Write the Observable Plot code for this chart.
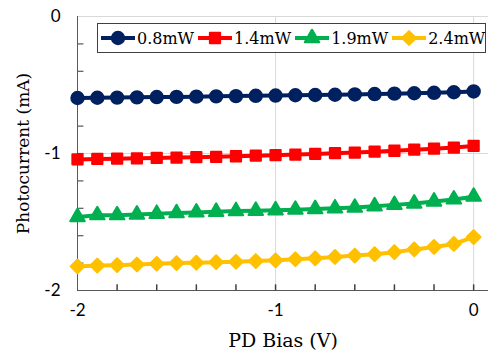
<!DOCTYPE html>
<html><head><meta charset="utf-8">
<script src="https://cdn.jsdelivr.net/npm/d3@7"></script>
<script src="https://cdn.jsdelivr.net/npm/@observablehq/plot@0.6"></script>
<style>
body{margin:0;background:#fff;}
#wrap{position:relative;width:489px;height:350px;}
#legend{position:absolute;left:97px;top:23px;width:389px;height:30px;box-sizing:border-box;border:1px solid #404040;background:#fff;display:flex;align-items:center;padding-left:3px;font-family:"DejaVu Serif",serif;font-size:16px;color:#000;}
.item{display:flex;align-items:center;margin-right:4px;}
.item svg{display:block;margin-right:2px;}
</style>
</head><body>
<div id="wrap"><div id="legend"></div></div>
<script>
const bias = [-2,-1.9,-1.8,-1.7,-1.6,-1.5,-1.4,-1.3,-1.2,-1.1,-1,-0.9,-0.8,-0.7,-0.6,-0.5,-0.4,-0.3,-0.2,-0.1,0];
const seriesNames = ["0.8mW","1.4mW","1.9mW","2.4mW"];
const p08 = [-0.595,-0.593,-0.592,-0.590,-0.588,-0.587,-0.585,-0.583,-0.581,-0.579,-0.577,-0.575,-0.573,-0.571,-0.569,-0.566,-0.563,-0.560,-0.557,-0.553,-0.547];
const p14 = [-1.043,-1.040,-1.038,-1.035,-1.032,-1.030,-1.027,-1.024,-1.020,-1.016,-1.012,-1.008,-1.003,-0.998,-0.993,-0.987,-0.980,-0.972,-0.965,-0.957,-0.945];
const p19 = [-1.463,-1.450,-1.450,-1.445,-1.440,-1.435,-1.430,-1.425,-1.420,-1.418,-1.414,-1.410,-1.405,-1.400,-1.395,-1.385,-1.375,-1.365,-1.350,-1.335,-1.315];
const p24 = [-1.824,-1.818,-1.815,-1.810,-1.805,-1.800,-1.797,-1.793,-1.790,-1.785,-1.780,-1.772,-1.765,-1.755,-1.745,-1.735,-1.720,-1.700,-1.682,-1.660,-1.610];
const colors = ["#002060","#ff0000","#00b050","#ffc000"];
const symbols = ["circle","square","triangle","diamond2"];
const symbolR = [6.2,5.8,5.4,6.2];
const yLabels = [0,-1,-2];
const xLabels = [-2,-1,0];
const yMinor = [-0.2,-0.4,-0.6,-0.8,-1,-1.2,-1.4,-1.6,-1.8];
const xMinor = [-1.8,-1.6,-1.4,-1.2,-1,-0.8,-0.6,-0.4,-0.2,0];

const allValues = [p08,p14,p19,p24];
const rows = [];
seriesNames.forEach((s,i)=>bias.forEach((x,j)=>rows.push({s, i, x, y: allValues[i][j]})));
const xTickRows = xMinor.map(v => ({x: v, y1: -2, y2: -1.955}));
const yTickRows = yMinor.map(v => ({y: v, x1: -2, x2: -1.97}));

const axisColor = "#595959";
const chart = Plot.plot({
  width: 489, height: 350,
  marginLeft: 77, marginRight: 1, marginTop: 16, marginBottom: 60,
  x: {domain: [-2, 0.075]},
  y: {domain: [-2, 0]},
  style: {fontFamily: "Lato, sans-serif", fontSize: "17px", color: "#000", background: "#fff"},
  marks: [
    Plot.gridX({ticks: [-1, 0], stroke: "#d9d9d9", strokeOpacity: 1}),
    Plot.gridY({ticks: [0, -1], stroke: "#d9d9d9", strokeOpacity: 1}),
    Plot.ruleX([-2], {stroke: axisColor}),
    Plot.ruleY([-2], {stroke: axisColor}),
    Plot.link(yTickRows, {x1: "x1", x2: "x2", y1: "y", y2: "y", stroke: axisColor, strokeWidth: 1.2}),
    Plot.link(xTickRows, {x1: "x", x2: "x", y1: "y1", y2: "y2", stroke: "#404040", strokeWidth: 1.5}),
    Plot.axisY({ticks: yLabels, tickSize: 0, tickPadding: 17, tickFormat: d => String(d), label: null}),
    Plot.axisX({ticks: xLabels, tickSize: 0, tickPadding: 13, tickFormat: d => String(d), label: null}),
    Plot.axisY({ticks: [], label: "Photocurrent (mA)", labelAnchor: "center", labelArrow: "none", labelOffset: 61, fontFamily: "DejaVu Serif, serif", fontSize: 17}),
    Plot.axisX({ticks: [], label: "PD Bias (V)", labelAnchor: "center", labelArrow: "none", labelOffset: 56, fontFamily: "DejaVu Serif, serif", fontSize: 19}),
    ...seriesNames.map((s, i) => Plot.lineY(rows.filter(d => d.i === i), {x: "x", y: "y", stroke: colors[i], strokeWidth: 4})),
    ...seriesNames.map((s, i) => Plot.dot(rows.filter(d => d.i === i), {x: "x", y: "y", r: symbolR[i], symbol: symbols[i], fill: colors[i], stroke: colors[i], strokeWidth: 2, strokeLinejoin: "round"}))
  ]
});
document.getElementById("wrap").prepend(chart);

const legend = d3.select("#legend");
const symMap = {circle: d3.symbolCircle, square: d3.symbolSquare, triangle: d3.symbolTriangle, diamond2: d3.symbolDiamond2};
seriesNames.forEach((s,i) => {
  const item = legend.append("div").attr("class","item");
  const svg = item.append("svg").attr("width",34).attr("height",18);
  svg.append("line").attr("x1",0).attr("x2",34).attr("y1",9).attr("y2",9).attr("stroke",colors[i]).attr("stroke-width",4);
  svg.append("path").attr("transform","translate(17,9)")
    .attr("d", d3.symbol(symMap[symbols[i]], Math.PI*symbolR[i]*symbolR[i])())
    .attr("fill",colors[i]).attr("stroke",colors[i]).attr("stroke-width",2).attr("stroke-linejoin","round");
  item.append("span").text(s);
});
</script>
</body></html>
